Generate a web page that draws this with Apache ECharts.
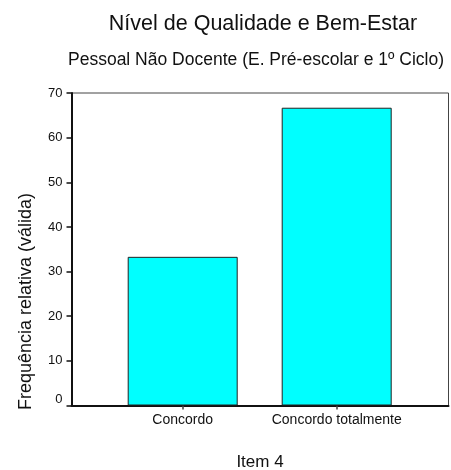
<!DOCTYPE html>
<html>
<head>
<meta charset="utf-8">
<script src="https://cdn.jsdelivr.net/npm/echarts@6/dist/echarts.min.js"></script>
<style>
html,body{margin:0;padding:0;background:#fff;}
#chart{width:451px;height:470px;}
</style>
</head>
<body>
<div id="chart"></div>
<script>
var titleText = 'Nível de Qualidade e Bem-Estar';
var subtitleText = 'Pessoal Não Docente (E. Pré-escolar e 1º Ciclo)';
var xAxisName = 'Item 4';
var yAxisName = 'Frequência relativa (válida)';
var categories = ['Concordo', 'Concordo totalmente'];
var values = [33.3, 66.7];
var yMin = 0, yMax = 70, yStep = 10;

var FONT = 'Liberation Sans, Arial, sans-serif';
var chart = echarts.init(document.getElementById('chart'), null, {renderer: 'canvas'});
var gTop = 93, gH = 312.5;
chart.setOption({
  animation: false,
  backgroundColor: '#ffffff',
  textStyle: {fontFamily: FONT},
  grid: [
    {left: 71.5, top: gTop, width: 377, height: gH, show: true, borderColor: '#444', borderWidth: 1, backgroundColor: 'transparent'},
    {left: 105.7, top: gTop, width: 308, height: gH}
  ],
  xAxis: [
    {gridIndex: 0, type: 'value', min: 0, max: 1, axisLine: {show: true, lineStyle: {color: '#111', width: 2}}, axisTick: {show: false}, axisLabel: {show: false}, splitLine: {show: false}},
    {gridIndex: 1, type: 'category', data: categories, axisLine: {show: false}, axisTick: {show: true, alignWithLabel: true, interval: 0, length: 4, lineStyle: {color: '#444', width: 1.5}}, axisLabel: {interval: 0, hideOverlap: false, fontFamily: FONT, fontSize: 14, color: '#111', margin: 8}}
  ],
  yAxis: [
    {gridIndex: 0, type: 'value', min: yMin, max: yMax, interval: yStep, axisLine: {show: true, lineStyle: {color: '#111', width: 2}}, axisTick: {show: true, length: 5, lineStyle: {color: '#111', width: 1.5}},
     axisLabel: {fontFamily: FONT, fontSize: 13, color: '#111', margin: 9,
       formatter: function (v) { return v === 0 ? '{z|0}' : String(v); },
       rich: {z: {fontFamily: FONT, fontSize: 13, color: '#111', padding: [0, 0, 12, 0]}}},
     splitLine: {show: false}},
    {gridIndex: 1, type: 'value', min: yMin, max: yMax, show: false}
  ],
  series: [{
    type: 'bar', xAxisIndex: 1, yAxisIndex: 1, data: values, barWidth: 110,
    itemStyle: {color: '#00ffff', borderColor: '#222', borderWidth: 1}
  }],
  graphic: [
    {type: 'text', x: 263, y: 24, style: {text: titleText, font: '21.5px ' + FONT, fill: '#111', textAlign: 'center', textVerticalAlign: 'middle'}},
    {type: 'text', x: 256, y: 60.5, style: {text: subtitleText, font: '17.5px ' + FONT, fill: '#111', textAlign: 'center', textVerticalAlign: 'middle'}},
    {type: 'text', x: 260, y: 462.5, style: {text: xAxisName, font: '17px ' + FONT, fill: '#111', textAlign: 'center', textVerticalAlign: 'middle'}},
    {type: 'text', x: 26, y: 301.5, rotation: Math.PI / 2, style: {text: yAxisName, font: '18px ' + FONT, fill: '#111', textAlign: 'center', textVerticalAlign: 'middle'}}
  ]
});
</script>
</body>
</html>
